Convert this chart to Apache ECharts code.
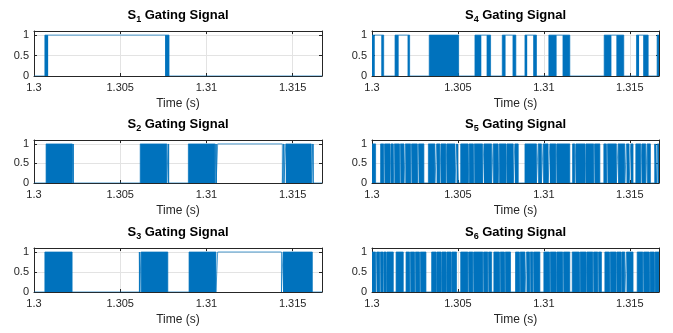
<!DOCTYPE html>
<html><head><meta charset="utf-8">
<script src="https://cdn.jsdelivr.net/npm/echarts@6/dist/echarts.min.js"></script>
<style>html,body{margin:0;padding:0;background:#fff}#c{width:673px;height:333px}</style>
</head><body><div id="c"></div>
<script>
// ---------- axis values ----------
const xTicks = [1.3, 1.305, 1.31, 1.315];
const yTicks = [0, 0.5, 1];
const xMin = 1.3, xMax = 1.3167;
const yMin = 0, yMax = 1.1;
const subscripts = ['1', '2', '3', '4', '5', '6'];
const xLabel = 'Time (s)';

// ---------- S1 ----------
const s1Blocks = [[1.30063, 1.30082], [1.30760, 1.30783]];
const s1High = [[1.30082, 1.30760]];
// ---------- S2 ----------
const s2Blocks = [[1.30070, 1.30221], [1.30225, 1.30227], [1.30616, 1.30770], [1.30778, 1.30780],
  [1.30895, 1.31049], [1.31054, 1.31056], [1.31447, 1.31449], [1.31460, 1.31608], [1.31616, 1.31618]];
const s2High = [[1.31065, 1.31440]];
// ---------- S3 ----------
const s3Blocks = [[1.30063, 1.30221], [1.30611, 1.30613], [1.30621, 1.30776],
  [1.30899, 1.31055], [1.31444, 1.31614]];
const s3High = [[1.31065, 1.31435]];
// ---------- S4 ----------
const s4Blocks = [[1.30000, 1.30016], [1.30054, 1.30068], [1.30134, 1.30155], [1.30207, 1.30219],
  [1.30333, 1.30504], [1.30599, 1.30636], [1.30667, 1.30690], [1.30758, 1.30777], [1.30818, 1.30837],
  [1.30890, 1.30903], [1.30938, 1.30957], [1.31029, 1.31074], [1.31109, 1.31151],
  [1.31351, 1.31393], [1.31422, 1.31465], [1.31539, 1.31554], [1.31578, 1.31607], [1.31659, 1.31670]];
const s4High = [[1.30016, 1.30054], [1.30155, 1.30207], [1.30636, 1.30667], [1.30777, 1.30818],
  [1.30903, 1.30938], [1.31074, 1.31109], [1.31393, 1.31422], [1.31554, 1.31578]];
// ---------- S5 (low gaps inside continuous switching) ----------
const s5Gaps = [[1.30021, 1.30050], [1.30068, 1.30073], [1.30105, 1.30110], [1.30124, 1.30130],
  [1.30186, 1.30194], [1.30264, 1.30271], [1.30302, 1.30328], [1.30366, 1.30376], [1.30395, 1.30401],
  [1.30483, 1.30492], [1.30502, 1.30516], [1.30643, 1.30651], [1.30696, 1.30705], [1.30734, 1.30740],
  [1.30822, 1.30831], [1.30851, 1.30890], [1.30957, 1.30967], [1.30986, 1.30996], [1.31025, 1.31035],
  [1.31151, 1.31167], [1.31180, 1.31186], [1.31326, 1.31349], [1.31364, 1.31370], [1.31422, 1.31432],
  [1.31471, 1.31481], [1.31496, 1.31506], [1.31519, 1.31535], [1.31564, 1.31570], [1.31593, 1.31601],
  [1.31620, 1.31645], [1.31655, 1.31661],
  [1.30160, 1.30165], [1.30225, 1.30230], [1.30430, 1.30435], [1.30560, 1.30565], [1.30590, 1.30595],
  [1.30780, 1.30785], [1.31070, 1.31075], [1.31240, 1.31245], [1.31290, 1.31295]];
// ---------- S6 ----------
const s6Gaps = [[1.30021, 1.30027], [1.30124, 1.30140], [1.30182, 1.30198], [1.30314, 1.30347],
  [1.30492, 1.30516], [1.30696, 1.30709], [1.30806, 1.30835], [1.30890, 1.30899], [1.30977, 1.31000],
  [1.31151, 1.31165], [1.31335, 1.31355], [1.31471, 1.31481], [1.31519, 1.31543],
  [1.30045, 1.30049], [1.30064, 1.30068], [1.30083, 1.30087], [1.30219, 1.30223], [1.30248, 1.30252],
  [1.30277, 1.30281], [1.30374, 1.30378], [1.30403, 1.30407], [1.30432, 1.30436], [1.30461, 1.30465],
  [1.30558, 1.30562], [1.30587, 1.30591], [1.30645, 1.30649], [1.30674, 1.30678], [1.30742, 1.30746],
  [1.30771, 1.30775], [1.30858, 1.30862], [1.30917, 1.30921], [1.30936, 1.30940], [1.31033, 1.31037],
  [1.31072, 1.31076], [1.31110, 1.31114], [1.31207, 1.31211], [1.31246, 1.31250], [1.31285, 1.31289],
  [1.31314, 1.31318], [1.31382, 1.31386], [1.31420, 1.31424], [1.31450, 1.31454], [1.31576, 1.31580],
  [1.31614, 1.31618], [1.31643, 1.31647]];

// ---------- helpers ----------
function complement(gaps) {
  const g = gaps.slice().sort((a, b) => a[0] - b[0]);
  const out = []; let cur = xMin;
  g.forEach(([a, b]) => { if (a > cur) out.push([cur, a]); cur = Math.max(cur, b); });
  if (cur < xMax) out.push([cur, xMax]);
  return out;
}
function traceOf(blocks, high) {
  const segs = blocks.concat(high).sort((a, b) => a[0] - b[0]);
  const pts = []; let cur = xMin;
  segs.forEach(([a, b]) => {
    if (a > cur) { pts.push([cur, 0], [a, 0]); }
    pts.push([a, 1], [b, 1]); cur = Math.max(cur, b);
  });
  if (cur < xMax) pts.push([cur, 0], [xMax, 0]);
  return pts;
}

const signals = [
  { blocks: s1Blocks, high: s1High },
  { blocks: s2Blocks, high: s2High },
  { blocks: s3Blocks, high: s3High },
  { blocks: s4Blocks, high: s4High },
  { blocks: complement(s5Gaps), high: [] },
  { blocks: complement(s6Gaps), high: [] }
];

// ---------- layout ----------
const colLeft = [34, 372], colWidth = [288, 287];
const rowTop = [31, 140, 248], rowHeight = [45, 43, 44];
const BLUE = '#0072BD', INK = '#262626', FONT = 'Liberation Sans, Arial, sans-serif';

const option = { animation: false, backgroundColor: '#fff', grid: [], xAxis: [], yAxis: [], series: [], title: [] };
const fmtX = v => { const r = Math.round(v * 1000) / 1000; return xTicks.some(t => Math.abs(t - r) < 1e-9 && Math.abs(v - t) < 1e-7) ? String(r) : ''; };
const fmtY = v => yTicks.some(t => Math.abs(t - v) < 1e-9) ? String(v) : '';

signals.forEach((sig, i) => {
  const col = i < 3 ? 0 : 1, row = i % 3;
  option.grid.push({ left: colLeft[col], top: rowTop[row], width: colWidth[col], height: rowHeight[row], containLabel: false });
  const common = { gridIndex: i, min: xMin, max: xMax, interval: 0.005 };
  option.xAxis.push(Object.assign({}, common, {
    type: 'value', position: 'bottom',
    axisLine: { show: true, onZero: false, lineStyle: { color: INK, width: 1 } },
    axisTick: { show: true, inside: true, length: 3, lineStyle: { color: INK } },
    axisLabel: { show: true, margin: 6, color: INK, fontSize: 11, fontFamily: FONT, formatter: fmtX, showMaxLabel: false },
    splitLine: { show: true, lineStyle: { color: '#e3e3e3', width: 1 } },
    name: xLabel, nameLocation: 'middle', nameGap: 22,
    nameTextStyle: { color: INK, fontSize: 12, fontFamily: FONT }
  }));
  option.xAxis.push(Object.assign({}, common, {
    type: 'value', position: 'top',
    axisLine: { show: true, onZero: false, lineStyle: { color: INK, width: 1 } },
    axisTick: { show: true, inside: true, length: 3, lineStyle: { color: INK } },
    axisLabel: { show: false }, splitLine: { show: false }
  }));
  const ycommon = { gridIndex: i, type: 'value', min: yMin, max: yMax, interval: 0.5 };
  option.yAxis.push(Object.assign({}, ycommon, {
    position: 'left',
    axisLine: { show: true, onZero: false, lineStyle: { color: INK, width: 1 } },
    axisTick: { show: true, inside: true, length: 3, lineStyle: { color: INK } },
    axisLabel: { show: true, margin: 5, color: INK, fontSize: 11, fontFamily: FONT, formatter: fmtY, showMaxLabel: false },
    splitLine: { show: true, lineStyle: { color: '#e3e3e3', width: 1 } }
  }));
  option.yAxis.push(Object.assign({}, ycommon, {
    position: 'right',
    axisLine: { show: true, onZero: false, lineStyle: { color: INK, width: 1 } },
    axisTick: { show: true, inside: true, length: 3, lineStyle: { color: INK } },
    axisLabel: { show: false }, splitLine: { show: false }
  }));
  option.title.push({
    text: '{m|S}{s|' + subscripts[i] + '}{m| Gating Signal}',
    left: colLeft[col] + colWidth[col] / 2, top: rowTop[row] - 25, textAlign: 'center', padding: 0,
    textStyle: { rich: {
      m: { fontSize: 13, fontWeight: 'bold', color: '#000', fontFamily: FONT, lineHeight: 18, verticalAlign: 'middle' },
      s: { fontSize: 9, fontWeight: 'bold', color: '#000', fontFamily: FONT, lineHeight: 9, verticalAlign: 'bottom' }
    } }
  });
  option.series.push({
    type: 'custom', xAxisIndex: 2 * i, yAxisIndex: 2 * i, z: 3,
    data: sig.blocks, encode: { x: [0, 1] }, clip: true,
    renderItem: (params, api) => {
      const p0 = api.coord([api.value(0), 1]);
      const p1 = api.coord([api.value(1), 0]);
      const w = Math.max(p1[0] - p0[0], 1);
      return { type: 'rect', shape: { x: p0[0], y: p0[1], width: w, height: p1[1] - p0[1] }, style: { fill: BLUE } };
    }
  });
  option.series.push({
    type: 'line', xAxisIndex: 2 * i, yAxisIndex: 2 * i, z: 4,
    data: traceOf(sig.blocks, sig.high), showSymbol: false, symbol: 'none',
    lineStyle: { color: BLUE, width: 0.7 }, clip: true
  });
});

const chart = echarts.init(document.getElementById('c'), null, { renderer: 'canvas' });
chart.setOption(option);
</script></body></html>
